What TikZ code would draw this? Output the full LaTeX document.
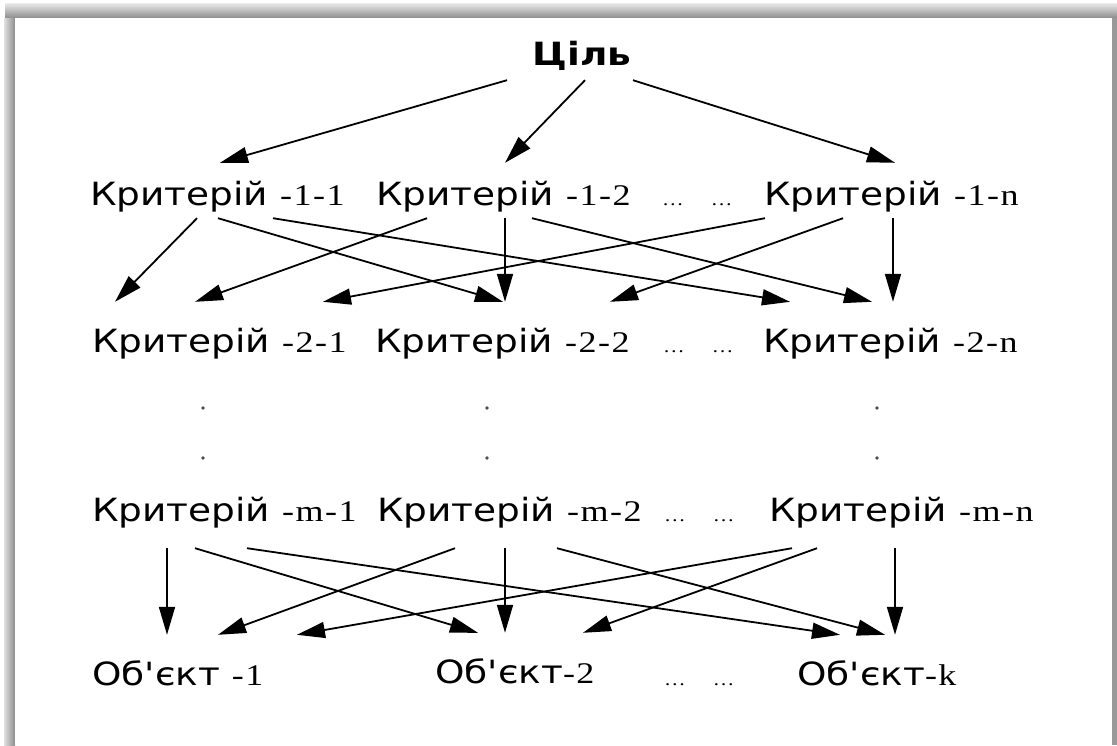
\documentclass[tikz,border=0pt]{standalone}
\usepackage{fontspec}
\newfontfamily\labelfont{DejaVu Sans}[FakeStretch=1.17]
\newfontfamily\idxfont{Liberation Serif}[FakeStretch=1.2,LetterSpace=5]
\usetikzlibrary{arrows.meta}

% serif index part of the labels
\newcommand{\idx}[1]{{\idxfont\fontsize{30}{30}\selectfont#1}}
\newcommand{\gaps}{{\idxfont\fontsize{18}{18}\selectfont…\hspace{27pt}…}}

\begin{document}
\begin{tikzpicture}[x=1pt, y=-1pt,
    crit/.style={inner sep=0pt, anchor=base west, font=\labelfont\fontsize{32}{32}\selectfont},
    goalbox/.style={crit, anchor=base, text height=30pt, text depth=15pt, font=\labelfont\bfseries\fontsize{32}{32}\selectfont},
    lvlone/.style={crit, text height=42pt, text depth=13pt},
    lvltwo/.style={crit, text height=50pt, text depth=8pt},
    lvlm/.style={crit, text height=29pt, text depth=27pt},
    objbox/.style={crit, text height=50pt, text depth=8pt},
    gap/.style={inner sep=0pt, anchor=base west},
    arrow/.style={-{Triangle[length=28pt,width=16pt]}, line width=1.8pt}
]
    \useasboundingbox (0,0) rectangle (1117,745);
    \fill[white] (0,0) rectangle (1117,745);

    % shadowed frame
    \shade[top color=black!8, bottom color=black!45] (5,3) rectangle (1117,18);
    \shade[left color=black!12, right color=black!45] (4,18) rectangle (15,745);
    \fill[black!40] (1112,18) rectangle (1117,745);
    \fill[white] (15,18) rectangle (1112,745);

    \node[goalbox] (goal) at (582,65) {Ціль};

    \node[lvlone] (k11) at (90,205) {Критерій \idx{-1-1}};
    \node[lvlone] (k12) at (376,205) {Критерій \idx{-1-2}};
    \node[gap] (g1) at (662,205) {\gaps};
    \node[lvlone] (k1n) at (764,205) {Критерій \idx{-1-n}};

    \node[lvltwo] (k21) at (92,352) {Критерій \idx{-2-1}};
    \node[lvltwo] (k22) at (375,352) {Критерій \idx{-2-2}};
    \node[gap] (g2) at (663,352) {\gaps};
    \node[lvltwo] (k2n) at (763,352) {Критерій \idx{-2-n}};

    % vertical ellipsis between the levels
    \foreach \x in {203,487,877} {
        \fill[black!70] (\x,408) circle (1.8pt);
        \fill[black!70] (\x,458) circle (1.8pt);
    }

    \node[lvlm] (km1) at (92,521) {Критерій \idx{-m-1}};
    \node[lvlm] (km2) at (377,521) {Критерій \idx{-m-2}};
    \node[gap] (gm) at (664,521) {\gaps};
    \node[lvlm] (kmn) at (769,521) {Критерій \idx{-m-n}};

    \node[objbox] (o1) at (92,685) {Об'єкт \idx{-1}};
    \node[objbox] (o2) at (435,683) {Об'єкт\idx{-2}};
    \node[gap] (go) at (664,685) {\gaps};
    \node[objbox] (ok) at (797,685) {Об'єкт\idx{-k}};

    % goal -> first level
    \draw[arrow] ([xshift=-75pt]goal.south) -- ([xshift=130pt]k11.north west);
    \draw[arrow] ([xshift=3pt]goal.south) -- ([xshift=129pt]k12.north west);
    \draw[arrow] ([xshift=51pt]goal.south) -- ([xshift=131pt]k1n.north west);

    % first level -> second level
    \draw[arrow] ([xshift=107pt]k11.south west) -- ([xshift=23pt]k21.north west);
    \draw[arrow] ([xshift=128pt]k11.south west) -- ([xshift=128pt]k22.north west);
    \draw[arrow] ([xshift=183pt]k11.south west) -- ([xshift=27pt]k2n.north west);
    \draw[arrow] ([xshift=51pt]k12.south west) -- ([xshift=103pt]k21.north west);
    \draw[arrow] ([xshift=129pt]k12.south west) -- ([xshift=130pt]k22.north west);
    \draw[arrow] ([xshift=156pt]k12.south west) -- ([xshift=109pt]k2n.north west);
    \draw[arrow] ([xshift=1pt]k1n.south west) -- ([xshift=231pt]k21.north west);
    \draw[arrow] ([xshift=79pt]k1n.south west) -- ([xshift=235pt]k22.north west);
    \draw[arrow] ([xshift=129pt]k1n.south west) -- ([xshift=130pt]k2n.north west);

    % last level -> objects
    \draw[arrow] ([xshift=75pt]km1.south west) -- ([xshift=75pt]o1.north west);
    \draw[arrow] ([xshift=103pt]km1.south west) -- ([xshift=43pt]o2.north west);
    \draw[arrow] ([xshift=155pt]km1.south west) -- ([xshift=43pt]ok.north west);
    \draw[arrow] ([xshift=78pt]km2.south west) -- ([xshift=126pt]o1.north west);
    \draw[arrow] ([xshift=128pt]km2.south west) -- ([xshift=70pt]o2.north west);
    \draw[arrow] ([xshift=180pt]km2.south west) -- ([xshift=88pt]ok.north west);
    \draw[arrow] ([xshift=23pt]kmn.south west) -- ([xshift=205pt]o1.north west);
    \draw[arrow] ([xshift=48pt]kmn.south west) -- ([xshift=148pt]o2.north west);
    \draw[arrow] ([xshift=126pt]kmn.south west) -- ([xshift=98pt]ok.north west);
\end{tikzpicture}
\end{document}
